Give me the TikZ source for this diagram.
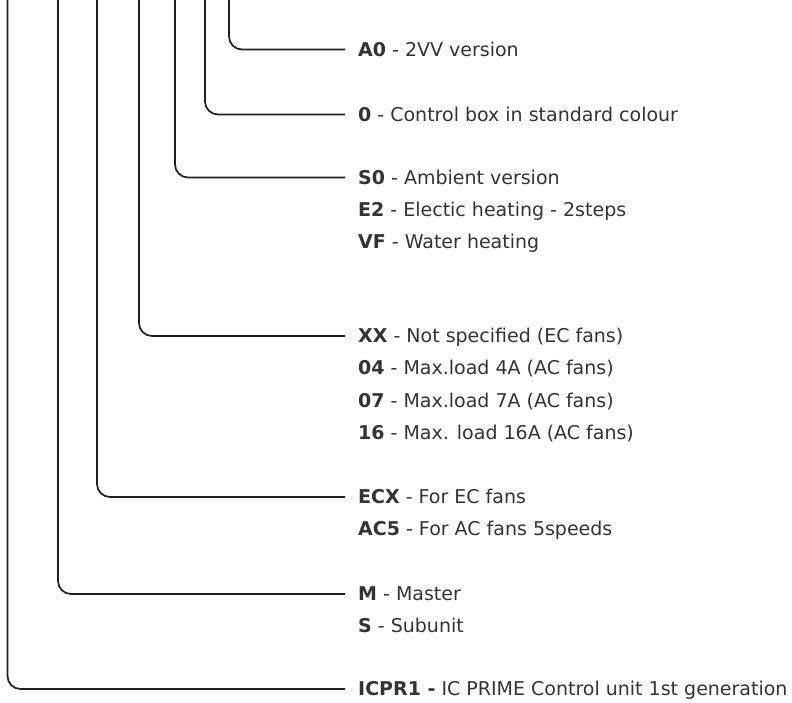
\documentclass[tikz,border=0pt]{standalone}
\usepackage{fontspec}
\setmainfont{DejaVu Sans}
\usetikzlibrary{positioning}
\definecolor{leadgray}{HTML}{231F20}
\definecolor{textgray}{HTML}{333333}

\begin{document}
\begin{tikzpicture}[x=1pt, y=-1pt, node distance=13pt]
		% Estilos de los textos y de las guías
		\tikzset{
			code/.style={
					anchor=west, inner xsep=13pt, inner ysep=0pt,
					text height=16pt, text depth=3pt,
					font=\fontsize{19}{23}\selectfont, text=textgray
				},
			option/.style={
					code, below=of #1.south west, anchor=north west
				},
			lead/.style={
					draw=leadgray, line width=1.7pt, rounded corners=13pt
				}
		}
		\useasboundingbox (0,0) rectangle (792,702);

		% Primera opción de cada posición del código
		\node[code] (a0) at (345,49.5) {\textbf{A0} - 2VV version};
		\node[code] (col) at (345,114.5) {\textbf{0} - Control box in standard colour};
		\node[code] (s0) at (345,177.5) {\textbf{S0} - Ambient version};
		\node[code] (xx) at (345,336) {\textbf{XX} - Not specified (EC fans)};
		\node[code] (ecx) at (345,497) {\textbf{ECX} - For EC fans};
		\node[code] (m) at (345,594) {\textbf{M} - Master};
		\node[code] (icpr) at (345,689) {\textbf{ICPR1 -} IC PRIME Control unit 1st generation};

		% Opciones alternativas
		\node[option=s0] (e2) {\textbf{E2} - Electic heating - 2steps};
		\node[option=e2] (vf) {\textbf{VF} - Water heating};
		\node[option=xx] (o4) {\textbf{04} - Max.load 4A (AC fans)};
		\node[option=o4] (o7) {\textbf{07} - Max.load 7A (AC fans)};
		\node[option=o7] (o16) {\textbf{16} - Max. load 16A (AC fans)};
		\node[option=ecx] (ac5) {\textbf{AC5} - For AC fans 5speeds};
		\node[option=m] (s) {\textbf{S} - Subunit};

		% Guías desde el borde superior
		\foreach \name/\x in {a0/229, col/205, s0/175, xx/139, ecx/97, m/58, icpr/7.5} {
				\coordinate (top-\name) at (\x,-5);
				\draw[lead] (top-\name) |- (\name.west);
			}
	\end{tikzpicture}
\end{document}
